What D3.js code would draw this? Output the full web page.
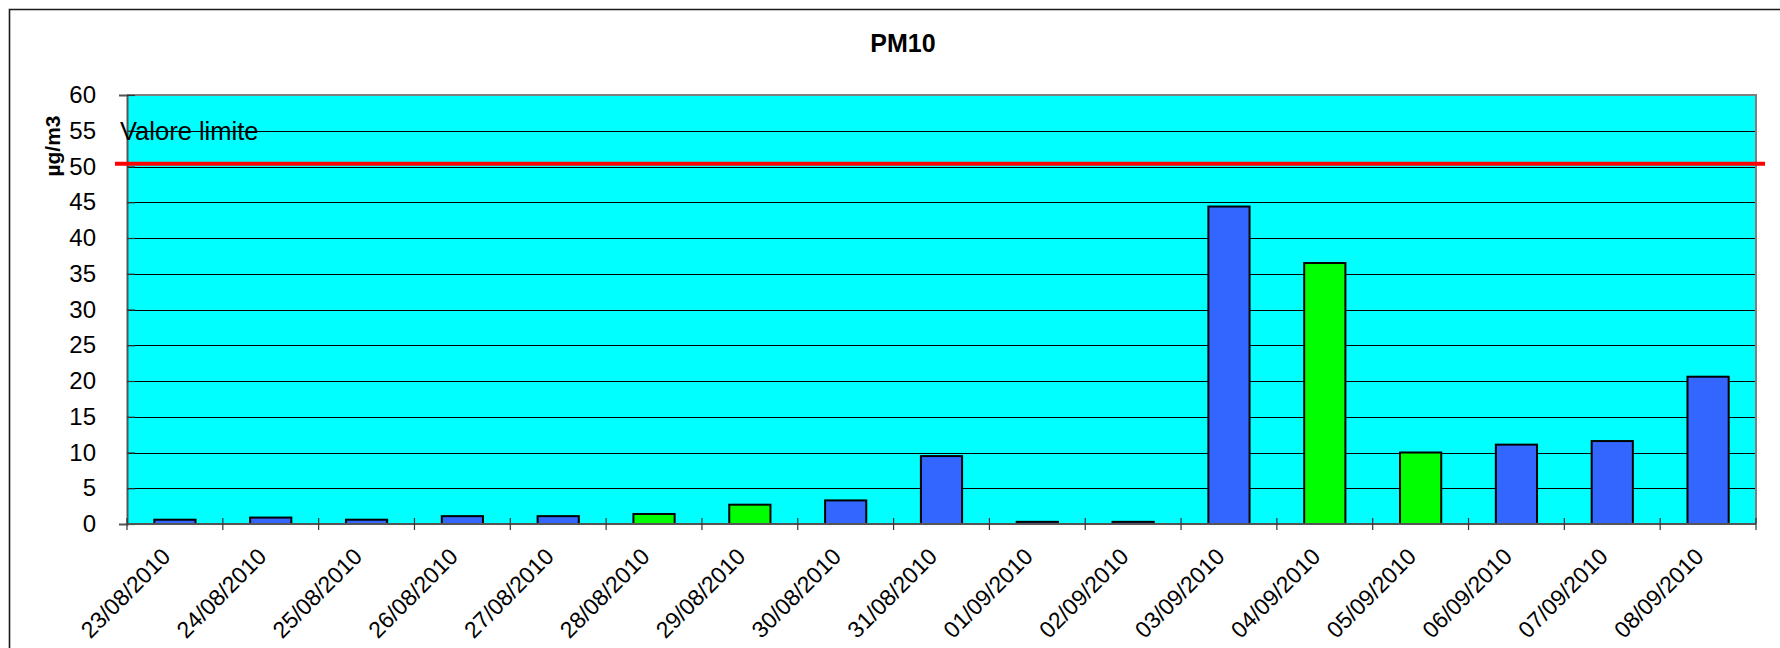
<!DOCTYPE html>
<html>
<head>
<meta charset="utf-8">
<script src="https://cdn.jsdelivr.net/npm/d3@7"></script>
<style>
  html, body { margin: 0; padding: 0; background: #fff; }
  svg { display: block; font-family: "Liberation Sans", Arial, sans-serif; }
</style>
</head>
<body>
<svg id="chart" width="1780" height="648"></svg>
<script>
// Daily PM10 concentrations (µg/m3)
const dates = ["23/08/2010", "24/08/2010", "25/08/2010", "26/08/2010", "27/08/2010", "28/08/2010",
               "29/08/2010", "30/08/2010", "31/08/2010", "01/09/2010", "02/09/2010", "03/09/2010",
               "04/09/2010", "05/09/2010", "06/09/2010", "07/09/2010", "08/09/2010"];
const pm10 = [0.6, 0.9, 0.6, 1.1, 1.1, 1.4, 2.7, 3.3, 9.5, 0.3, 0.3, 44.4, 36.5, 10.0, 11.1, 11.6, 20.6];
// weekend / holiday days drawn in green
const greenDays = ["28/08/2010", "29/08/2010", "04/09/2010", "05/09/2010"];
const yTicks = [0, 5, 10, 15, 20, 25, 30, 35, 40, 45, 50, 55, 60];
const limitValue = 50.4;
const limitLabel = "Valore limite";
const title = "PM10";
const yTitle = "µg/m3";

const svg = d3.select("#chart");
const plot = { left: 127, right: 1756, top: 95, bottom: 524 };

const x = d3.scaleBand().domain(dates).range([plot.left, plot.right])
  .paddingInner(0.57).paddingOuter(0.285);
const y = d3.scaleLinear().domain([0, 60]).range([plot.bottom, plot.top]);

// outer frame (left and top edges)
svg.append("path")
  .attr("d", `M9.5,648 V9.5 H1780`)
  .attr("fill", "none").attr("stroke", "#1a1a1a").attr("stroke-width", 1.6);

// title
svg.append("text").attr("x", 903).attr("y", 52).attr("text-anchor", "middle")
  .attr("font-size", 25).attr("font-weight", "bold").text(title);

// plot area
svg.append("rect")
  .attr("x", plot.left).attr("y", plot.top)
  .attr("width", plot.right - plot.left).attr("height", plot.bottom - plot.top)
  .attr("fill", "#00FFFF");

// horizontal gridlines
svg.append("g").selectAll("line").data(yTicks.filter(t => t > 0 && t < 60)).join("line")
  .attr("x1", plot.left).attr("x2", plot.right)
  .attr("y1", d => Math.round(y(d)) + 0.5).attr("y2", d => Math.round(y(d)) + 0.5)
  .attr("stroke", "#000").attr("stroke-width", 1.2);

// plot border top and right
svg.append("path")
  .attr("d", `M${plot.left},${plot.top} H${plot.right} V${plot.bottom}`)
  .attr("fill", "none").attr("stroke", "#808080").attr("stroke-width", 2);

// bars
svg.append("g").selectAll("rect").data(dates).join("rect")
  .attr("x", d => x(d))
  .attr("y", (d, i) => y(pm10[i]))
  .attr("width", x.bandwidth())
  .attr("height", (d, i) => y(0) - y(pm10[i]))
  .attr("fill", d => greenDays.includes(d) ? "#00FF00" : "#3366FF")
  .attr("stroke", "#000").attr("stroke-width", 2);

// y axis with crossing tick marks
const yAxis = svg.append("g").attr("transform", `translate(${plot.left},0)`)
  .call(d3.axisLeft(y).tickValues(yTicks).tickSize(8).tickPadding(23));
yAxis.select(".domain").attr("stroke", "#555").attr("stroke-width", 2);
yAxis.selectAll(".tick line").attr("x2", 8).attr("stroke", "#333").attr("stroke-width", 1.2);
yAxis.selectAll(".tick text").attr("font-size", 24).attr("fill", "#000")
  .attr("font-family", "Liberation Sans, Arial, sans-serif");

// x axis: baseline, ticks at category boundaries, rotated labels
const gap = (x.step() - x.bandwidth()) / 2;
const bounds = dates.map(d => x(d) - gap).concat([plot.right]);
svg.append("line")
  .attr("x1", plot.left).attr("x2", plot.right)
  .attr("y1", y(0)).attr("y2", y(0))
  .attr("stroke", "#555").attr("stroke-width", 2);
svg.append("g").selectAll("line").data(bounds).join("line")
  .attr("x1", d => d).attr("x2", d => d)
  .attr("y1", y(0) - 6).attr("y2", y(0) + 6)
  .attr("stroke", "#333").attr("stroke-width", 1.2);
svg.append("g").selectAll("text").data(dates).join("text")
  .attr("transform", d => `translate(${x(d) + x.bandwidth() / 2 - 3},${y(0) + 34}) rotate(-45)`)
  .attr("text-anchor", "end").attr("font-size", 23).text(d => d);

// limit line
svg.append("line")
  .attr("x1", plot.left - 12).attr("x2", plot.right + 9)
  .attr("y1", y(limitValue)).attr("y2", y(limitValue))
  .attr("stroke", "#FF0000").attr("stroke-width", 4);
svg.append("text").attr("x", plot.left - 7).attr("y", y(55) + 9)
  .attr("font-size", 25.5).text(limitLabel);

// y axis title
svg.append("text")
  .attr("transform", `translate(60,146) rotate(-90)`)
  .attr("text-anchor", "middle").attr("font-size", 21).attr("font-weight", "bold")
  .text(yTitle);
</script>
</body>
</html>
